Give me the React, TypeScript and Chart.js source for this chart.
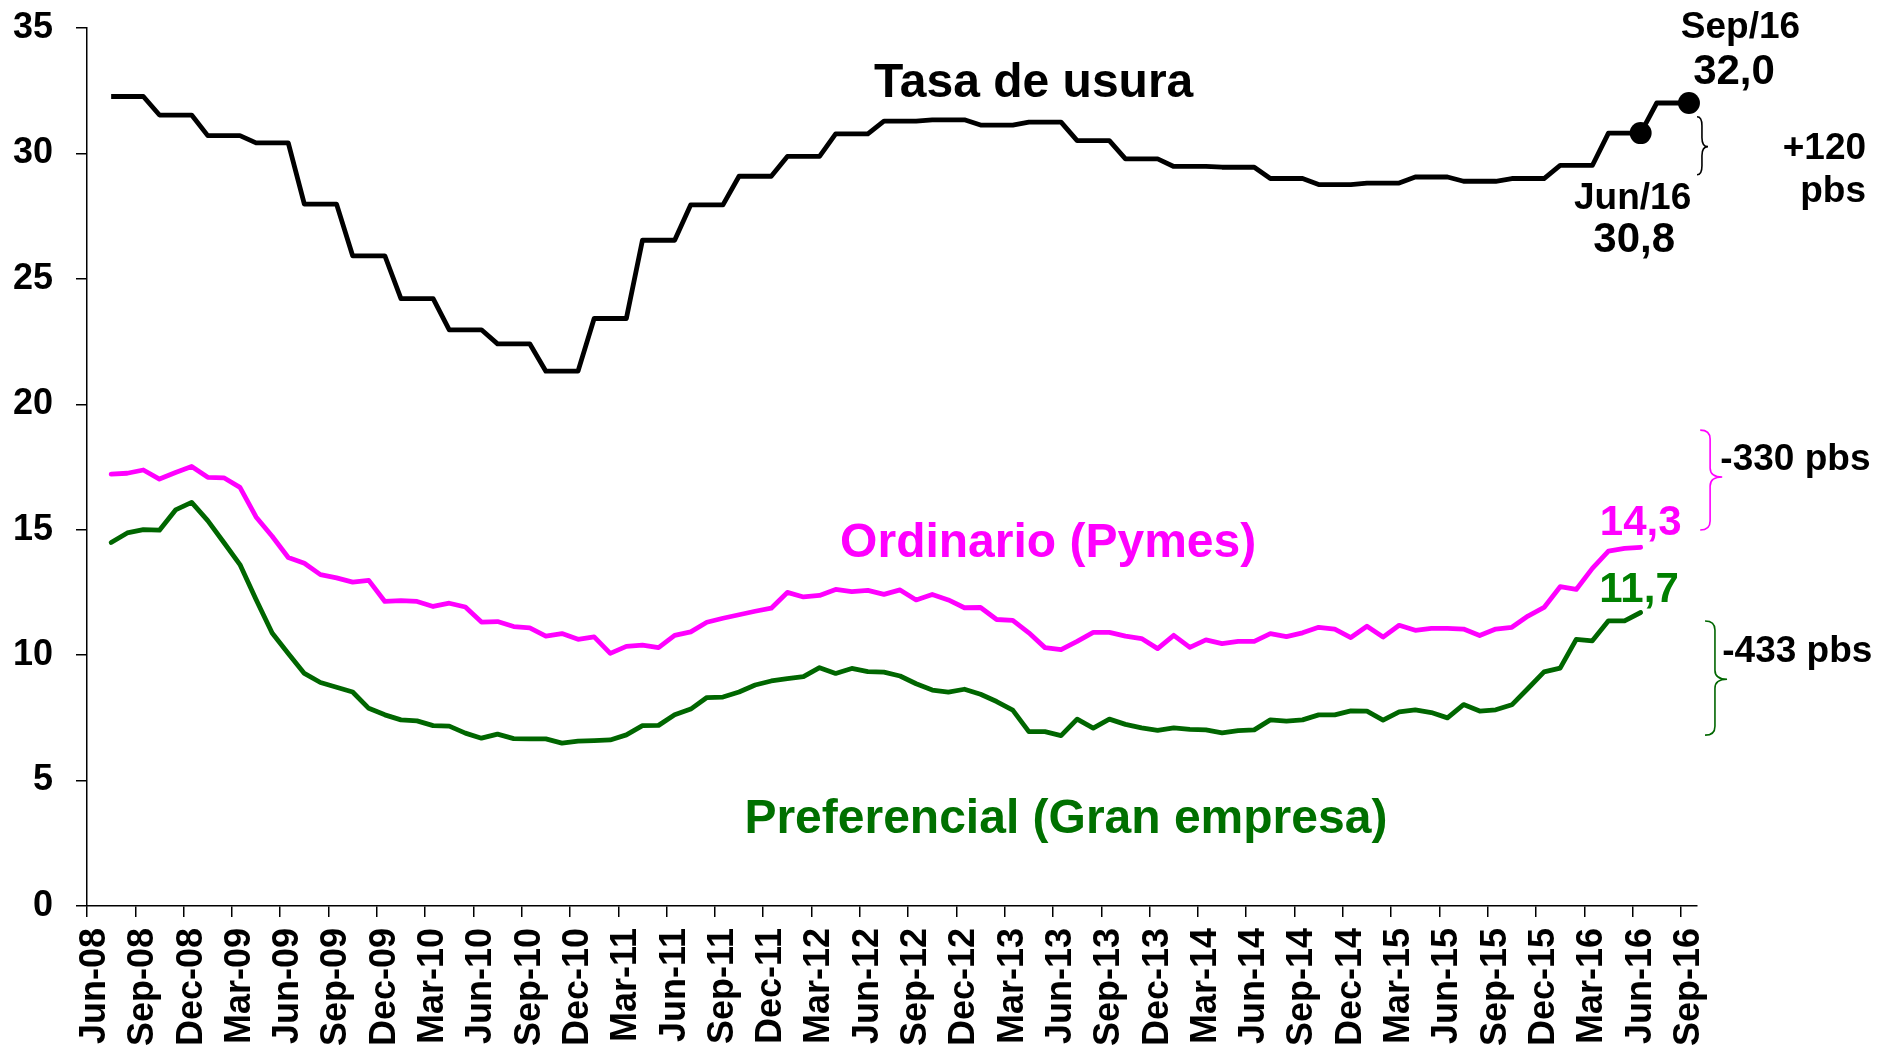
import { useEffect, useRef } from 'react';
import { Chart, registerables } from 'chart.js';

Chart.register(...registerables);

const FONT = '"Liberation Sans", Arial, Helvetica, sans-serif';

const categories = [
  'Jun-08','Jul-08','Aug-08','Sep-08','Oct-08','Nov-08','Dec-08',
  'Jan-09','Feb-09','Mar-09','Apr-09','May-09','Jun-09','Jul-09','Aug-09','Sep-09','Oct-09','Nov-09','Dec-09',
  'Jan-10','Feb-10','Mar-10','Apr-10','May-10','Jun-10','Jul-10','Aug-10','Sep-10','Oct-10','Nov-10','Dec-10',
  'Jan-11','Feb-11','Mar-11','Apr-11','May-11','Jun-11','Jul-11','Aug-11','Sep-11','Oct-11','Nov-11','Dec-11',
  'Jan-12','Feb-12','Mar-12','Apr-12','May-12','Jun-12','Jul-12','Aug-12','Sep-12','Oct-12','Nov-12','Dec-12',
  'Jan-13','Feb-13','Mar-13','Apr-13','May-13','Jun-13','Jul-13','Aug-13','Sep-13','Oct-13','Nov-13','Dec-13',
  'Jan-14','Feb-14','Mar-14','Apr-14','May-14','Jun-14','Jul-14','Aug-14','Sep-14','Oct-14','Nov-14','Dec-14',
  'Jan-15','Feb-15','Mar-15','Apr-15','May-15','Jun-15','Jul-15','Aug-15','Sep-15','Oct-15','Nov-15','Dec-15',
  'Jan-16','Feb-16','Mar-16','Apr-16','May-16','Jun-16','Jul-16','Aug-16','Sep-16',
];

// Tasa de usura (monthly, quarterly steps)
const usura = [
  null,
  32.27, 32.27, 32.27, 31.53, 31.53, 31.53,
  30.71, 30.71, 30.71, 30.42, 30.42, 30.42, 27.98, 27.98, 27.98, 25.92, 25.92, 25.92,
  24.21, 24.21, 24.21, 22.97, 22.97, 22.97, 22.41, 22.41, 22.41, 21.32, 21.32, 21.32,
  23.42, 23.42, 23.42, 26.54, 26.54, 26.54, 27.95, 27.95, 27.95, 29.09, 29.09, 29.09,
  29.88, 29.88, 29.88, 30.78, 30.78, 30.78, 31.29, 31.29, 31.29, 31.34, 31.34, 31.34,
  31.13, 31.13, 31.13, 31.25, 31.25, 31.25, 30.51, 30.51, 30.51, 29.78, 29.78, 29.78,
  29.48, 29.48, 29.48, 29.45, 29.45, 29.45, 29.0, 29.0, 29.0, 28.76, 28.76, 28.76,
  28.82, 28.82, 28.82, 29.06, 29.06, 29.06, 28.89, 28.89, 28.89, 29.0, 29.0, 29.0,
  29.52, 29.52, 29.52, 30.81, 30.81, 30.81, 32.01, 32.01, 32.01,
];

// Ordinario (Pymes)
const ordinario = [
  null,
  17.22, 17.25, 17.38, 17.02, 17.28, 17.52,
  17.09, 17.07, 16.69, 15.51, 14.74, 13.89, 13.66, 13.21, 13.08, 12.91, 12.98, 12.14,
  12.17, 12.14, 11.94, 12.07, 11.92, 11.32, 11.34, 11.14, 11.09, 10.76, 10.86, 10.63,
  10.73, 10.07, 10.35, 10.40, 10.30, 10.79, 10.93, 11.31, 11.47, 11.61, 11.75, 11.87,
  12.50, 12.32, 12.38, 12.62, 12.53, 12.58, 12.42, 12.60, 12.20, 12.42, 12.20, 11.89,
  11.90, 11.42, 11.39, 10.89, 10.30, 10.22, 10.55, 10.91, 10.91, 10.76, 10.66, 10.26,
  10.79, 10.31, 10.61, 10.46, 10.55, 10.55, 10.86, 10.74, 10.89, 11.11, 11.04, 10.70,
  11.15, 10.72, 11.19, 10.99, 11.07, 11.07, 11.04, 10.78, 11.04, 11.11, 11.56, 11.90,
  12.73, 12.62, 13.46, 14.15, 14.26, 14.30, null, null, null,
];

// Preferencial (Gran empresa)
const preferencial = [
  null,
  14.49, 14.87, 15.00, 14.98, 15.79, 16.09,
  15.36, 14.49, 13.61, 12.22, 10.88, 10.07, 9.27, 8.91, 8.72, 8.53, 7.88, 7.62,
  7.42, 7.38, 7.19, 7.17, 6.89, 6.69, 6.85, 6.67, 6.66, 6.66, 6.49, 6.57,
  6.59, 6.62, 6.82, 7.19, 7.20, 7.62, 7.85, 8.31, 8.33, 8.53, 8.81, 8.97,
  9.06, 9.14, 9.50, 9.27, 9.47, 9.34, 9.32, 9.17, 8.86, 8.61, 8.53, 8.64,
  8.44, 8.15, 7.81, 6.95, 6.95, 6.79, 7.45, 7.09, 7.45, 7.24, 7.10, 7.00,
  7.10, 7.04, 7.02, 6.90, 6.99, 7.02, 7.42, 7.37, 7.42, 7.62, 7.62, 7.78,
  7.77, 7.41, 7.74, 7.82, 7.71, 7.50, 8.03, 7.77, 7.82, 8.02, 8.67, 9.33,
  9.48, 10.63, 10.57, 11.37, 11.37, 11.70, null, null, null,
];

const markerIndices = [96, 99];

const yMin = 0;
const yMax = 35;
const yStep = 5;
const labelEvery = 3;

const MAGENTA = '#FF00FF';
const GREEN_LINE = '#006600';
const GREEN_TEXT = '#007000';
const GREEN_VALUE = '#008000';

// Annotations anchored by category index and value
const textNotes = [
  { text: 'Tasa de usura', i: 58.3, v: 32.77, size: 48, color: '#000', align: 'center' },
  { text: 'Ordinario (Pymes)', i: 59.2, v: 14.42, size: 48, color: MAGENTA, align: 'center' },
  { text: 'Preferencial (Gran empresa)', i: 60.3, v: 3.44, size: 48, color: GREEN_TEXT, align: 'center' },
  { text: 'Sep/16', i: 102.2, v: 35.0, size: 37, color: '#000', align: 'center' },
  { text: '32,0', i: 101.8, v: 33.23, size: 42, color: '#000', align: 'center' },
  { text: 'Jun/16', i: 95.5, v: 28.2, size: 37, color: '#000', align: 'center' },
  { text: '30,8', i: 95.6, v: 26.55, size: 42, color: '#000', align: 'center' },
  { text: '+120', i: 110.0, v: 30.2, size: 37, color: '#000', align: 'right' },
  { text: 'pbs', i: 110.0, v: 28.47, size: 37, color: '#000', align: 'right' },
  { text: '-330 pbs', i: 100.95, v: 17.78, size: 37, color: '#000', align: 'left' },
  { text: '14,3', i: 96.0, v: 15.24, size: 42, color: MAGENTA, align: 'center' },
  { text: '11,7', i: 95.9, v: 12.57, size: 42, color: GREEN_VALUE, align: 'center' },
  { text: '-433 pbs', i: 101.07, v: 10.14, size: 37, color: '#000', align: 'left' },
];

const braceNotes = [
  { i: 99.5, top: 31.46, tip: 30.27, bottom: 29.15, w: 11, color: '#000' },
  { i: 99.7, top: 18.97, tip: 17.1, bottom: 14.99, w: 22, color: MAGENTA },
  { i: 100.0, top: 11.36, tip: 9.04, bottom: 6.81, w: 22, color: GREEN_LINE },
];

const annotationPlugin = {
  id: 'annotations',
  afterDatasetsDraw(chart: any) {
    const { ctx } = chart;
    const xs = chart.scales.x;
    const ys = chart.scales.y;
    const px = (i: number) => xs.getPixelForValue(i);
    const py = (v: number) => ys.getPixelForValue(v);
    ctx.save();
    for (const n of textNotes) {
      ctx.font = `bold ${n.size}px ${FONT}`;
      ctx.fillStyle = n.color;
      ctx.textAlign = n.align;
      ctx.textBaseline = 'middle';
      ctx.fillText(n.text, px(n.i), py(n.v));
    }
    for (const b of braceNotes) {
      const x0 = px(b.i);
      const xm = x0 + b.w * 0.45;
      const xt = x0 + b.w;
      const yT = py(b.top);
      const yM = py(b.tip);
      const yB = py(b.bottom);
      const r = Math.min(9, (yB - yT) / 6);
      ctx.strokeStyle = b.color;
      ctx.lineWidth = 1.6;
      ctx.beginPath();
      ctx.moveTo(x0, yT);
      ctx.quadraticCurveTo(xm, yT, xm, yT + r);
      ctx.lineTo(xm, yM - r);
      ctx.quadraticCurveTo(xm, yM, xt, yM);
      ctx.quadraticCurveTo(xm, yM, xm, yM + r);
      ctx.lineTo(xm, yB - r);
      ctx.quadraticCurveTo(xm, yB, x0, yB);
      ctx.stroke();
    }
    ctx.restore();
  },
};

export default function App() {
  const canvasRef = useRef<HTMLCanvasElement | null>(null);

  useEffect(() => {
    const canvas = canvasRef.current;
    if (!canvas) return;
    Chart.defaults.font.family = FONT;
    const pointRadii = categories.map((_, idx) => (markerIndices.includes(idx) ? 11 : 0));
    const chart = new Chart(canvas, {
      type: 'line',
      data: {
        labels: categories,
        datasets: [
          {
            label: 'Tasa de usura',
            data: usura,
            borderColor: '#000',
            backgroundColor: '#000',
            borderWidth: 4.8,
            pointRadius: pointRadii,
            pointBackgroundColor: '#000',
            pointBorderWidth: 0,
            tension: 0,
            borderJoinStyle: 'round',
            clip: false,
          },
          {
            label: 'Ordinario (Pymes)',
            data: ordinario,
            borderColor: MAGENTA,
            backgroundColor: MAGENTA,
            borderWidth: 4.8,
            pointRadius: 0,
            tension: 0,
            borderJoinStyle: 'round',
            borderCapStyle: 'round',
          },
          {
            label: 'Preferencial (Gran empresa)',
            data: preferencial,
            borderColor: GREEN_LINE,
            backgroundColor: GREEN_LINE,
            borderWidth: 4.8,
            pointRadius: 0,
            tension: 0,
            borderJoinStyle: 'round',
            borderCapStyle: 'round',
          },
        ],
      },
      options: {
        responsive: false,
        animation: false,
        devicePixelRatio: 1,
        layout: { padding: { top: 28, right: 181, bottom: 0, left: 0 } },
        plugins: {
          legend: { display: false },
          tooltip: { enabled: false },
          title: { display: false },
        },
        scales: {
          x: {
            type: 'category',
            offset: true,
            grid: {
              offset: true,
              drawOnChartArea: false,
              drawTicks: true,
              tickLength: 11,
              lineWidth: 1.5,
              color: (ctx: any) =>
                typeof ctx.index === 'number' && ctx.index % labelEvery === 0 ? '#000' : 'rgba(0,0,0,0)',
            },
            border: { display: true, color: '#000', width: 1.5 },
            ticks: {
              autoSkip: false,
              maxRotation: 90,
              minRotation: 90,
              padding: 11,
              color: '#000',
              font: { size: 36, weight: 'bold', family: FONT },
              callback: (_v: any, idx: number) => (idx % labelEvery === 0 ? categories[idx] : ''),
            },
            afterFit: (scale: any) => {
              scale.height = 144;
            },
          },
          y: {
            min: yMin,
            max: yMax,
            grid: {
              drawOnChartArea: false,
              drawTicks: true,
              tickLength: 11,
              lineWidth: 1.5,
              color: '#000',
            },
            border: { display: true, color: '#000', width: 1.5 },
            ticks: {
              stepSize: yStep,
              padding: 23,
              color: '#000',
              font: { size: 36, weight: 'bold', family: FONT },
            },
            afterFit: (scale: any) => {
              scale.width = 87;
              scale.paddingTop = 0;
              scale.paddingBottom = 0;
            },
          },
        },
      },
      plugins: [annotationPlugin],
    } as any);
    return () => chart.destroy();
  }, []);

  return (
    <div style={{ position: 'absolute', left: 0, top: 0, width: 1878, height: 1050, background: '#fff' }}>
      <canvas ref={canvasRef} width={1878} height={1050} style={{ width: 1878, height: 1050, display: 'block' }} />
    </div>
  );
}
